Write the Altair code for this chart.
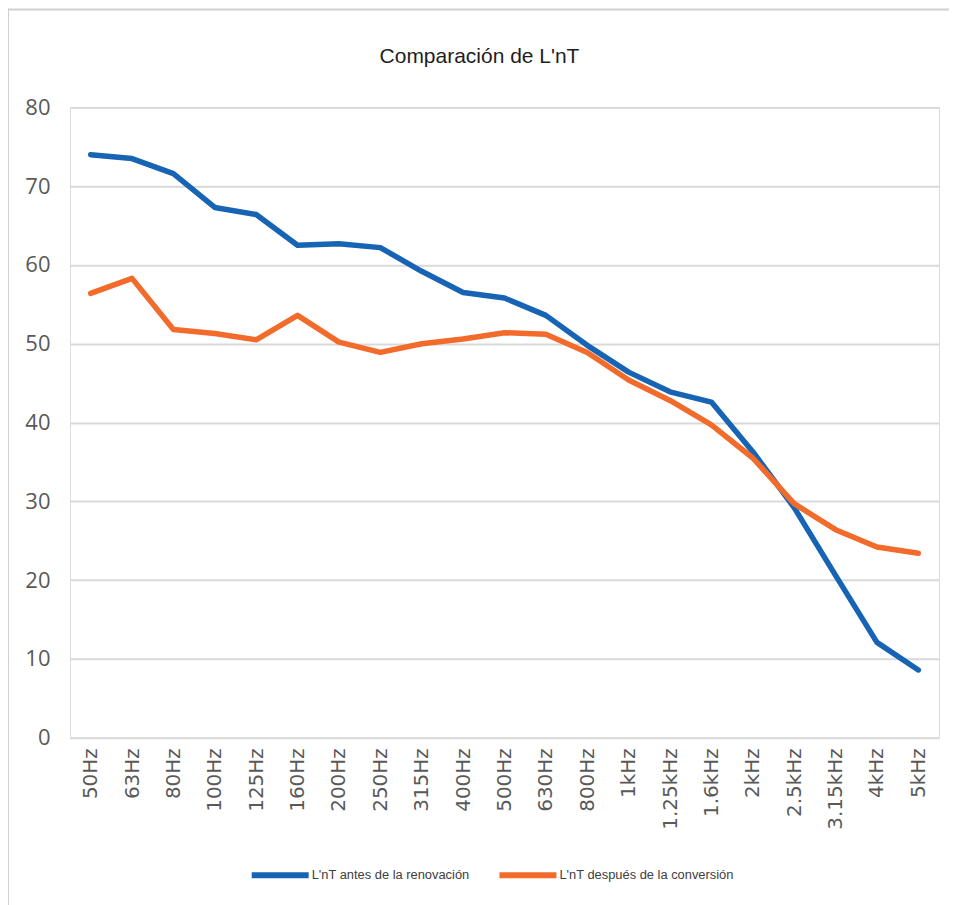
import altair as alt
import pandas as pd

freqs = ["50Hz", "63Hz", "80Hz", "100Hz", "125Hz", "160Hz", "200Hz", "250Hz", "315Hz",
         "400Hz", "500Hz", "630Hz", "800Hz", "1kHz", "1.25kHz", "1.6kHz", "2kHz",
         "2.5kHz", "3.15kHz", "4kHz", "5kHz"]
antes = [74.0, 73.5, 71.6, 67.3, 66.4, 62.5, 62.7, 62.2, 59.2, 56.5, 55.8, 53.6, 49.8,
         46.4, 43.9, 42.6, 36.3, 29.2, 20.6, 12.1, 8.6]
despues = [56.4, 58.3, 51.8, 51.3, 50.5, 53.6, 50.2, 48.9, 50.0, 50.6, 51.4, 51.2, 48.9,
           45.4, 42.8, 39.7, 35.5, 29.7, 26.4, 24.2, 23.4]
series_names = ["L'nT antes de la renovación", "L'nT después de la conversión"]
colors = ["#1864b4", "#f26b2b"]
title_text = "Comparación de L'nT"

rows = []
for f, a, d in zip(freqs, antes, despues):
    rows.append({"freq": f, "serie": series_names[0], "valor": a})
    rows.append({"freq": f, "serie": series_names[1], "valor": d})
df = pd.DataFrame(rows)

W, H = 870, 631

lines = alt.Chart(df).mark_line(strokeWidth=5.5, strokeCap="round", strokeJoin="round").encode(
    x=alt.X("freq:N", sort=freqs, title=None,
            scale=alt.Scale(type="point", padding=0.5),
            axis=alt.Axis(labelAngle=-90, labelFont="DejaVu Sans", labelFontSize=20,
                          labelColor="#595959", labelPadding=10, ticks=False, domain=False,
                          grid=False, labelAlign="right", labelBaseline="middle")),
    y=alt.Y("valor:Q", title=None,
            scale=alt.Scale(domain=[0, 80], nice=False, zero=True),
            axis=alt.Axis(values=[0, 10, 20, 30, 40, 50, 60, 70, 80], labelFont="Open Sans",
                          labelFontSize=22, labelColor="#595959", labelPadding=20,
                          ticks=False, domain=False, grid=True, gridColor="#d9d9d9",
                          gridWidth=2)),
    color=alt.Color("serie:N", sort=series_names,
                    scale=alt.Scale(domain=series_names, range=colors),
                    legend=alt.Legend(title=None, orient="none", direction="horizontal",
                                      legendX=179, legendY=737, symbolType="stroke",
                                      symbolSize=3249, symbolStrokeWidth=6,
                                      labelFont="Liberation Sans", labelFontSize=12.9,
                                      labelColor="#404040", labelOffset=0, labelLimit=400,
                                      columnPadding=18)),
)

title = alt.Chart(pd.DataFrame({"t": [title_text]})).mark_text(
    font="Liberation Sans", fontSize=21, color="#1e1e1e", align="center", baseline="middle"
).encode(text="t:N", x=alt.value(410), y=alt.value(-50))

border_v = alt.Chart(pd.DataFrame({"k": [0]})).mark_rule(color="#d0d0d0", strokeWidth=2).encode(
    x=alt.value(-62), y=alt.value(-99), y2=alt.value(820))
border_h = alt.Chart(pd.DataFrame({"k": [0]})).mark_rule(color="#d0d0d0", strokeWidth=2).encode(
    x=alt.value(-62), x2=alt.value(880), y=alt.value(-98))

chart = alt.layer(border_v, border_h, title, lines).properties(
    width=W, height=H,
    autosize=alt.AutoSizeParams(type="none"),
    padding={"left": 62, "top": 99, "right": 10, "bottom": 175},
).configure_view(stroke=None).configure(background="white")

chart.save("out.html", embed_options={"renderer": "svg", "actions": False})
